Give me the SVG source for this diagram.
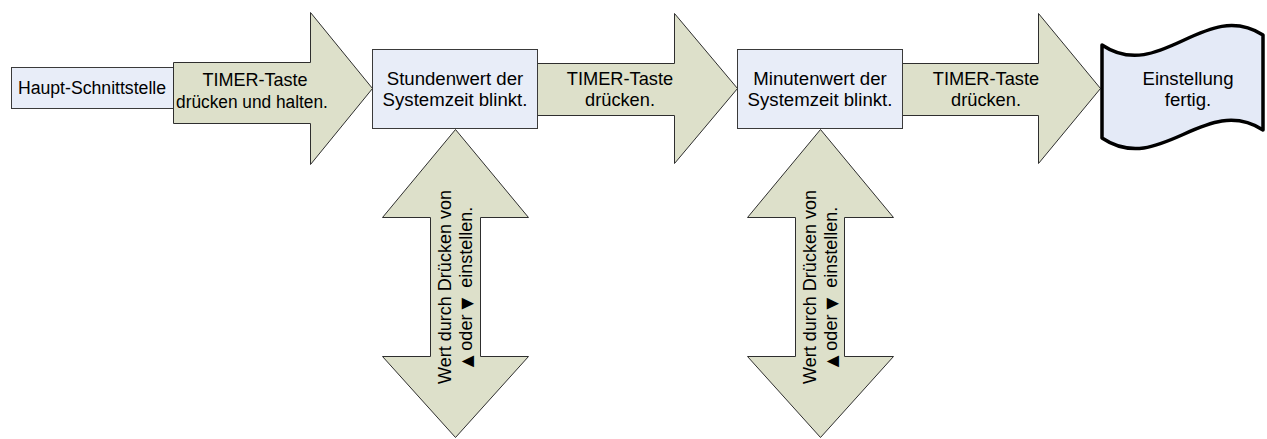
<svg xmlns="http://www.w3.org/2000/svg" width="1267" height="439" viewBox="0 0 1267 439">
  <style>
    .box { fill: #E8EDF8; stroke: #3A3A3A; stroke-width: 1; }
    .arrow { fill: #DDE0CA; stroke: #2E2E2E; stroke-width: 1; stroke-linejoin: miter; }
    .tape { fill: #E4EAF7; stroke: #000000; stroke-width: 3.5; stroke-linejoin: round; }
    .lbl { font-family: "Liberation Sans", Arial, sans-serif; font-size: 19px; fill: #000000; text-anchor: middle; }
    .pre { white-space: pre; }
    .sym { font-family: "DejaVu Sans", sans-serif; font-size: 16px; }
  </style>
  <rect width="1267" height="439" fill="#FFFFFF"/>

  <!-- start node -->
  <g id="node-haupt">
    <rect class="box" x="11.5" y="67.5" width="164" height="41"/>
    <text class="lbl" transform="translate(92,94) scale(0.93,1)">Haupt-Schnittstelle</text>
  </g>

  <!-- block arrows between the steps -->
  <g id="connectors">
    <polygon id="arrow-hold" class="arrow" points="173.5,62.5 310.5,62.5 310.5,12.5 372.5,88.5 310.5,164.5 310.5,123.5 173.5,123.5"/>
    <polygon id="arrow-press-1" class="arrow" points="537.5,63.5 674.5,63.5 674.5,13.5 737.5,88.5 674.5,163.5 674.5,115.5 537.5,115.5"/>
    <polygon id="arrow-press-2" class="arrow" points="902.5,63.5 1038.5,63.5 1038.5,13.5 1100.5,88.5 1038.5,163.5 1038.5,115.5 902.5,115.5"/>
    <polygon id="arrow-adjust-hour" class="arrow" points="455.5,129.5 528.5,217.5 480.5,217.5 480.5,356.5 528.5,356.5 455.5,437.5 382.5,356.5 430.5,356.5 430.5,217.5 382.5,217.5"/>
    <polygon id="arrow-adjust-minute" class="arrow" points="820.5,129.5 893.5,217.5 844.5,217.5 844.5,356.5 893.5,356.5 820.5,437.5 747.5,356.5 795.5,356.5 795.5,217.5 747.5,217.5"/>

    <g id="connector-labels">
      <text class="lbl" transform="translate(255,86) scale(0.95,1)">TIMER-Taste</text>
      <text class="lbl" transform="translate(252,108) scale(0.91,1)">drücken und halten.</text>
      <text class="lbl" transform="translate(620,84.5) scale(0.96,1)">TIMER-Taste</text>
      <text class="lbl" transform="translate(620,105.5) scale(0.96,1)">drücken.</text>
      <text class="lbl" transform="translate(986,84.5) scale(0.96,1)">TIMER-Taste</text>
      <text class="lbl" transform="translate(986,105.5) scale(0.96,1)">drücken.</text>

      <g transform="translate(455,287) rotate(-90)">
        <text class="lbl" transform="translate(0,-4.5) scale(0.95,1)">Wert durch Drücken von</text>
        <text class="lbl pre" transform="translate(0,16.5) scale(0.95,1)"><tspan class="sym">▲</tspan> oder <tspan class="sym">▼</tspan>  einstellen.</text>
      </g>
      <g transform="translate(820,287) rotate(-90)">
        <text class="lbl" transform="translate(0,-4.5) scale(0.95,1)">Wert durch Drücken von</text>
        <text class="lbl pre" transform="translate(0,16.5) scale(0.95,1)"><tspan class="sym">▲</tspan> oder <tspan class="sym">▼</tspan>  einstellen.</text>
      </g>
    </g>
  </g>

  <!-- step: hour value -->
  <g id="node-hour">
    <rect class="box" x="372.5" y="49.5" width="165" height="79"/>
    <text class="lbl" transform="translate(455,84.5) scale(0.98,1)">Stundenwert der</text>
    <text class="lbl" transform="translate(455,105.5) scale(0.98,1)">Systemzeit blinkt.</text>
  </g>

  <!-- step: minute value -->
  <g id="node-minute">
    <rect class="box" x="737.5" y="49.5" width="165" height="79"/>
    <text class="lbl" transform="translate(820,84.5) scale(0.98,1)">Minutenwert der</text>
    <text class="lbl" transform="translate(820,105.5) scale(0.98,1)">Systemzeit blinkt.</text>
  </g>

  <!-- end node: punched tape shape -->
  <g id="node-done">
    <path class="tape" d="M1102,45 C1160,84 1205,-2 1263,35 L1263,130 C1205,93 1160,177 1102,138 Z"/>
    <text class="lbl" transform="translate(1188,84.5) scale(0.98,1)">Einstellung</text>
    <text class="lbl" transform="translate(1188,105.5) scale(0.98,1)">fertig.</text>
  </g>
</svg>
